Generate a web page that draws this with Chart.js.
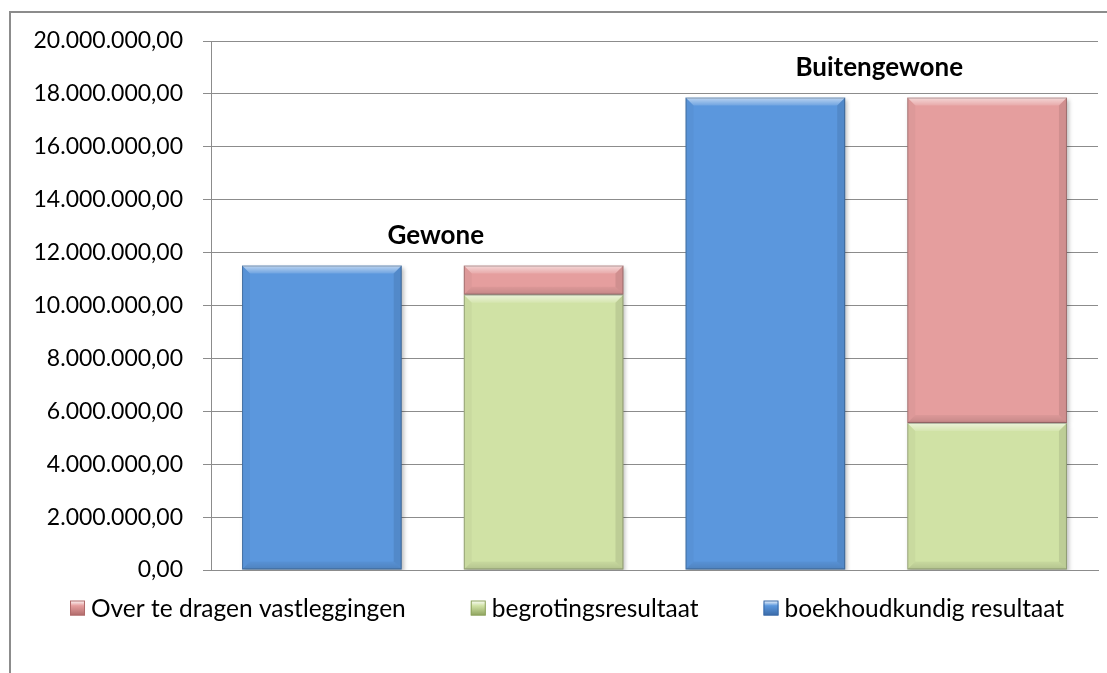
<!DOCTYPE html>
<html>
<head>
<meta charset="utf-8">
<script src="https://cdn.jsdelivr.net/npm/chart.js@4.4.1/dist/chart.umd.min.js"></script>
<style>
    body { margin: 0; background: #fff; overflow: hidden; }
    #frame {
        position: absolute;
        left: 9px;
        top: 11px;
        width: 1200px;
        height: 800px;
        border-left: 2px solid #8c8c8c;
        border-top: 2px solid #8c8c8c;
    }
</style>
</head>
<body>
<div id="frame">
    <canvas id="resultChart" width="1096" height="660"></canvas>
</div>
<script>
const categories = ["Gewone", "Buitengewone"];
const boekhoudkundig = [11510000, 17860000];
const begrotingsresultaat = [10410000, 5560000];
const overTeDragen = [1100000, 12300000];
const yTicks = { min: 0, max: 20000000, step: 2000000 };

const FONT = "Lato";
const GRID = "#8c8c8c";

function formatNumber(value) {
    const parts = value.toFixed(2).split(".");
    return parts[0].replace(/\B(?=(\d{3})+(?!\d))/g, ".") + "," + parts[1];
}

// bevel look like the office chart
const bevelPlugin = {
    id: "bevel",
    beforeDatasetsDraw(chart) {
        const ctx = chart.ctx;
        ctx.save();
        ctx.shadowColor = "rgba(0,0,0,0.25)";
        ctx.shadowBlur = 4;
        ctx.shadowOffsetX = 2;
        ctx.shadowOffsetY = 2;
    },
    afterDatasetsDraw(chart) {
        const ctx = chart.ctx;
        ctx.restore();
        chart.data.datasets.forEach((ds, di) => {
            const meta = chart.getDatasetMeta(di);
            meta.data.forEach((bar) => {
                const p = bar.getProps(["x", "y", "base", "width"], true);
                const l = p.x - p.width / 2;
                const r = p.x + p.width / 2;
                const t = Math.min(p.y, p.base);
                const bt = Math.max(p.y, p.base);
                const b = Math.min(8, (bt - t) / 2);

                const poly = (pts, fill) => {
                    ctx.beginPath();
                    ctx.moveTo(pts[0][0], pts[0][1]);
                    pts.slice(1).forEach((q) => ctx.lineTo(q[0], q[1]));
                    ctx.closePath();
                    ctx.fillStyle = fill;
                    ctx.fill();
                };

                ctx.save();
                const topGrad = ctx.createLinearGradient(0, t, 0, t + b);
                topGrad.addColorStop(0, "rgba(255,255,255,0.6)");
                topGrad.addColorStop(1, "rgba(255,255,255,0.12)");
                poly([[l, t], [r, t], [r - b, t + b], [l + b, t + b]], topGrad);
                const botGrad = ctx.createLinearGradient(0, bt - b, 0, bt);
                botGrad.addColorStop(0, "rgba(0,0,0,0.04)");
                botGrad.addColorStop(1, "rgba(0,0,0,0.14)");
                poly([[l, bt], [r, bt], [r - b, bt - b], [l + b, bt - b]], botGrad);
                poly([[l, t], [l + b, t + b], [l + b, bt - b], [l, bt]], "rgba(0,0,0,0.03)");
                poly([[r, t], [r - b, t + b], [r - b, bt - b], [r, bt]], "rgba(0,0,0,0.09)");
                ctx.strokeStyle = "rgba(0,0,0,0.25)";
                ctx.lineWidth = 1;
                ctx.strokeRect(l + 0.5, t + 0.5, p.width - 1, bt - t - 1);
                ctx.restore();
            });
        });
    },
};

// category names above each group
const categoryLabelPlugin = {
    id: "categoryLabels",
    afterDatasetsDraw(chart) {
        const ctx = chart.ctx;
        const xScale = chart.scales.x;
        ctx.save();
        ctx.font = "bold 26px " + FONT;
        ctx.fillStyle = "#000";
        ctx.textAlign = "center";
        ctx.textBaseline = "middle";
        categories.forEach((name, i) => {
            let top = Infinity;
            chart.data.datasets.forEach((ds, di) => {
                const bar = chart.getDatasetMeta(di).data[i];
                if (bar) top = Math.min(top, bar.y);
            });
            ctx.fillText(name, xScale.getPixelForValue(i) + 3, top - 30);
        });
        ctx.restore();
    },
};

// legend drawn below the plot, reversed order
const legendPlugin = {
    id: "bevelLegend",
    afterDraw(chart) {
        const ctx = chart.ctx;
        const items = chart.data.datasets.slice().reverse();
        const box = 15, gapText = 6, gapItem = 65;
        ctx.save();
        ctx.font = "24.5px " + FONT;
        const widths = items.map((ds) => box + gapText + ctx.measureText(ds.label).width);
        const total = widths.reduce((a, w) => a + w, 0) + gapItem * (items.length - 1);
        let x = chart.width / 2 + 8 - total / 2;
        const y = chart.chartArea.bottom + 38;
        items.forEach((ds, i) => {
            const grad = ctx.createLinearGradient(0, y - box / 2, 0, y + box / 2);
            grad.addColorStop(0, "#fff");
            grad.addColorStop(0.35, ds.backgroundColor);
            grad.addColorStop(1, ds.borderColor);
            ctx.fillStyle = grad;
            ctx.fillRect(x, y - box / 2, box, box);
            ctx.strokeStyle = ds.borderColor;
            ctx.lineWidth = 1;
            ctx.strokeRect(x + 0.5, y - box / 2 + 0.5, box - 1, box - 1);
            ctx.fillStyle = "#000";
            ctx.textAlign = "left";
            ctx.textBaseline = "middle";
            ctx.fillText(ds.label, x + box + gapText, y + 1);
            x += widths[i] + gapItem;
        });
        ctx.restore();
    },
};

document.addEventListener("DOMContentLoaded", () => {
    const ctx = document.getElementById("resultChart").getContext("2d");

    new Chart(ctx, {
        type: "bar",
        data: {
            labels: categories,
            datasets: [
                {
                    label: "boekhoudkundig resultaat",
                    data: boekhoudkundig,
                    stack: "a",
                    backgroundColor: "#5b97dd",
                    borderColor: "#3a6aa8",
                },
                {
                    label: "begrotingsresultaat",
                    data: begrotingsresultaat,
                    stack: "b",
                    backgroundColor: "#d0e2a5",
                    borderColor: "#8ea35e",
                },
                {
                    label: "Over te dragen vastleggingen",
                    data: overTeDragen,
                    stack: "b",
                    backgroundColor: "#e59e9e",
                    borderColor: "#b06a6a",
                },
            ],
        },
        options: {
            responsive: false,
            animation: false,
            borderWidth: 0,
            categoryPercentage: 1,
            barPercentage: 0.72,
            layout: {
                padding: { top: 28, right: 9, bottom: 103, left: 0 },
            },
            plugins: {
                legend: { display: false },
                tooltip: { enabled: false },
            },
            scales: {
                x: {
                    stacked: true,
                    grid: { display: false },
                    ticks: { display: false },
                    border: { display: true, color: GRID, width: 1 },
                    afterFit: (scale) => {
                        scale.height = 0;
                    },
                },
                y: {
                    stacked: true,
                    min: yTicks.min,
                    max: yTicks.max,
                    ticks: {
                        stepSize: yTicks.step,
                        color: "#000",
                        padding: 20,
                        font: { family: FONT, size: 23 },
                        callback: (value) => formatNumber(value),
                    },
                    grid: { color: GRID, lineWidth: 1, tickLength: 8 },
                    border: { display: true, color: GRID, width: 1 },
                    afterFit: (scale) => {
                        scale.width = 200;
                        scale.paddingTop = 10;
                        scale.paddingBottom = 10;
                    },
                },
            },
        },
        plugins: [bevelPlugin, categoryLabelPlugin, legendPlugin],
    });
});
</script>
</body>
</html>
